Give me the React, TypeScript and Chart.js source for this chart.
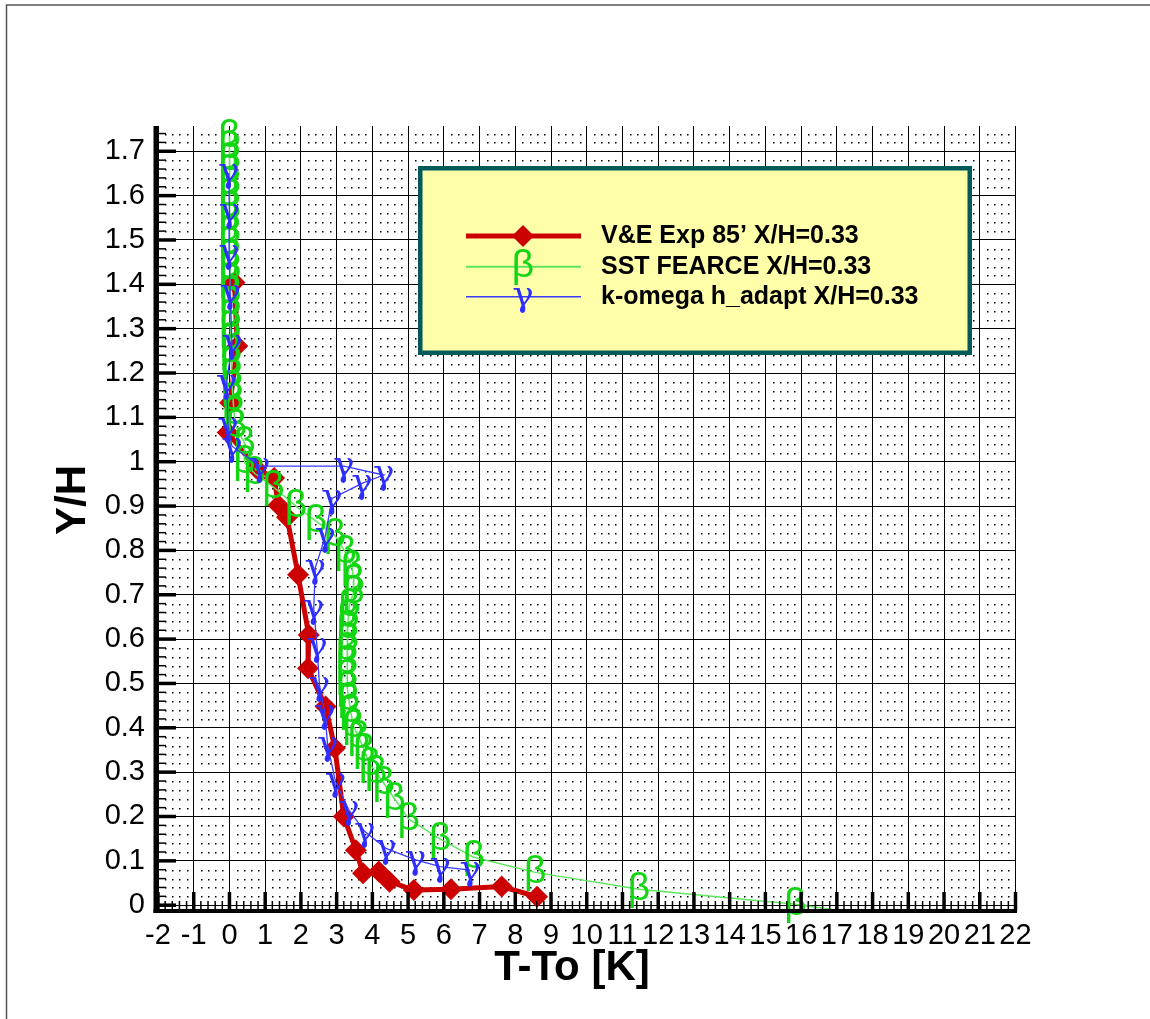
import React, { useEffect, useRef } from 'react';
import { Chart, registerables } from 'chart.js';

Chart.register(...registerables);

// ---------- data ----------
const X_TICKS = [-2, -1, 0, 1, 2, 3, 4, 5, 6, 7, 8, 9, 10, 11, 12, 13, 14, 15, 16, 17, 18, 19, 20, 21, 22];
const X_TICK_LABELS = ['-2', '-1', '0', '1', '2', '3', '4', '5', '6', '7', '8', '9', '10', '11', '12', '13', '14', '15', '16', '17', '18', '19', '20', '21', '22'];
const Y_TICKS = [0, 0.1, 0.2, 0.3, 0.4, 0.5, 0.6, 0.7, 0.8, 0.9, 1, 1.1, 1.2, 1.3, 1.4, 1.5, 1.6, 1.7];
const Y_TICK_LABELS = ['0', '0.1', '0.2', '0.3', '0.4', '0.5', '0.6', '0.7', '0.8', '0.9', '1', '1.1', '1.2', '1.3', '1.4', '1.5', '1.6', '1.7'];

const SERIES_NAMES = ["V&E Exp 85\u2019 X/H=0.33", 'SST FEARCE X/H=0.33', 'k-omega h_adapt X/H=0.33'];

// V&E experiment (T-To, Y/H)
const EXP_POINTS: [number, number][] = [
  [0.14, 1.404], [0.22, 1.261], [0.02, 1.133], [-0.05, 1.066], [0.75, 0.985], [1.25, 0.963],
  [1.37, 0.902], [1.61, 0.875], [1.92, 0.745], [2.22, 0.609], [2.2, 0.534], [2.69, 0.448],
  [2.95, 0.354], [3.2, 0.2], [3.54, 0.124], [3.74, 0.072], [4.18, 0.076], [4.48, 0.053],
  [5.16, 0.034], [6.2, 0.036], [7.62, 0.042], [8.61, 0.019],
];

// SST FEARCE
const SST_POINTS: [number, number][] = [
  [0.0, 1.735], [0.0, 1.709], [0.01, 1.682], [0.0, 1.655], [0.01, 1.627], [0.0, 1.601],
  [0.01, 1.572], [0.0, 1.546], [0.01, 1.518], [0.0, 1.492], [0.01, 1.464], [0.02, 1.437],
  [0.01, 1.411], [0.02, 1.383], [0.02, 1.357], [0.03, 1.329], [0.02, 1.303], [0.04, 1.276],
  [0.04, 1.248], [0.05, 1.222], [0.06, 1.194], [0.08, 1.168], [0.1, 1.14], [0.13, 1.11],
  [0.18, 1.08], [0.42, 1.042], [0.42, 0.998], [0.7, 0.974], [1.23, 0.943], [1.86, 0.9],
  [2.42, 0.866], [2.95, 0.834], [3.25, 0.795], [3.43, 0.762], [3.48, 0.731], [3.47, 0.705],
  [3.36, 0.676], [3.33, 0.652], [3.31, 0.626], [3.31, 0.6], [3.29, 0.576], [3.29, 0.547],
  [3.29, 0.517], [3.3, 0.49], [3.34, 0.465], [3.39, 0.438], [3.47, 0.404], [3.62, 0.378],
  [3.77, 0.35], [3.93, 0.318], [4.1, 0.3], [4.32, 0.275], [4.62, 0.24], [5.02, 0.194],
  [5.9, 0.149], [6.84, 0.108], [8.56, 0.074], [11.46, 0.036], [15.84, 0.002], [17.4, -0.016],
];

// k-omega h_adapt
const KOMEGA_POINTS: [number, number][] = [
  [-0.02, 1.651], [0.0, 1.561], [-0.01, 1.47], [0.02, 1.38], [0.07, 1.267], [-0.08, 1.177],
  [-0.04, 1.08], [0.07, 1.035], [0.85, 0.99], [3.2, 0.99], [4.32, 0.97], [3.71, 0.951],
  [2.87, 0.917], [2.68, 0.831], [2.4, 0.76], [2.36, 0.669], [2.45, 0.583], [2.52, 0.496],
  [2.67, 0.433], [2.75, 0.36], [2.97, 0.278], [3.34, 0.215], [3.79, 0.166], [4.38, 0.128],
  [5.21, 0.102], [5.9, 0.087], [6.74, 0.079],
];

// ---------- styles ----------
const RED = '#cc0000';
const GREEN_LINE = '#5ee65e';
const GREEN_GLYPH = '#12d612';
const BLUE_LINE = '#3a3aff';
const BLUE_GLYPH = '#2e2eff';
const BETA_FONT = '39px "Liberation Sans", Arial, sans-serif';
const GAMMA_FONT = '36px "DejaVu Serif", "Liberation Serif", serif';

const W = 1150;
const H = 1019;

const toXY = (pts: [number, number][]) => pts.map(([x, y]) => ({ x, y }));

const glyphPlugin = {
  id: 'glyphs',
  afterDatasetDraw(chart: any, args: any) {
    const ds = chart.data.datasets[args.index];
    if (!ds.glyph) return;
    const ctx = chart.ctx;
    const a = chart.chartArea;
    ctx.save();
    ctx.font = ds.glyphFont;
    ctx.fillStyle = ds.glyphColor;
    ctx.textAlign = 'center';
    ctx.textBaseline = 'middle';
    for (const el of args.meta.data) {
      if (el.y > a.bottom || el.y < a.top || el.x < a.left || el.x > a.right) continue;
      ctx.fillText(ds.glyph, el.x, el.y);
    }
    ctx.restore();
  },
};

const backgroundPlugin = {
  id: 'bgdots',
  beforeDatasetsDraw(chart: any) {
    const ctx = chart.ctx;
    const xs = chart.scales.x;
    const ys = chart.scales.y;
    ctx.save();
    ctx.fillStyle = '#000';
    for (let i = 0; i <= 120; i++) {
      if (i % 5 === 0) continue;
      const px = Math.round(xs.getPixelForValue(-2 + i * 0.2));
      for (let j = 0; j <= 87; j++) {
        if (j % 5 === 0) continue;
        const py = Math.round(ys.getPixelForValue(j * 0.02));
        ctx.fillRect(px, py, 1.5, 1.5);
      }
    }
    ctx.restore();
  },
};

const framePlugin = {
  id: 'frame',
  afterDatasetsDraw(chart: any) {
    const ctx = chart.ctx;
    const a = chart.chartArea;
    const xs = chart.scales.x;
    const ys = chart.scales.y;
    ctx.save();
    ctx.strokeStyle = '#000';
    // x ticks (inward)
    for (let i = 0; i <= 120; i++) {
      const major = i % 5 === 0;
      const px = xs.getPixelForValue(-2 + i * 0.2);
      ctx.lineWidth = major ? 3.5 : 1.5;
      ctx.beginPath();
      ctx.moveTo(px, a.bottom);
      ctx.lineTo(px, a.bottom - (major ? 19 : 10));
      ctx.stroke();
    }
    // y ticks (inward)
    for (let j = 0; j <= 87; j++) {
      const major = j % 5 === 0;
      const py = ys.getPixelForValue(j * 0.02);
      ctx.lineWidth = major ? 3.5 : 1.5;
      ctx.beginPath();
      ctx.moveTo(a.left - 2, py);
      ctx.lineTo(a.left + (major ? 18 : 8), py);
      ctx.stroke();
    }
    // axis lines
    ctx.fillStyle = '#000';
    ctx.fillRect(a.left - 4.5, a.top, 5, a.bottom - a.top + 2);
    ctx.fillRect(a.left - 4.5, a.bottom - 2, a.right - a.left + 6, 4);
    ctx.restore();
  },
  afterDraw(chart: any) {
    const ctx = chart.ctx;
    ctx.save();
    // outer frame
    ctx.strokeStyle = '#555';
    ctx.lineWidth = 1.5;
    ctx.beginPath();
    ctx.moveTo(6.5, H);
    ctx.lineTo(6.5, 5);
    ctx.lineTo(W, 5);
    ctx.stroke();

    // axis titles
    ctx.fillStyle = '#000';
    ctx.font = 'bold 42px "Liberation Sans", Arial, sans-serif';
    ctx.textAlign = 'center';
    ctx.textBaseline = 'middle';
    ctx.fillText('T-To [K]', 572, 968);
    ctx.save();
    ctx.translate(73, 500);
    ctx.rotate(-Math.PI / 2);
    ctx.fillText('Y/H', 0, 0);
    ctx.restore();

    // legend box
    ctx.fillStyle = '#ffffaa';
    ctx.fillRect(420, 168, 550, 185);
    ctx.strokeStyle = '#005a5a';
    ctx.lineWidth = 4.5;
    ctx.strokeRect(420.25, 168.25, 549.5, 184.5);

    const lx0 = 466;
    const lx1 = 581;
    const lxc = 523;
    const rows = [236, 266.7, 296.7];
    // row 1
    ctx.strokeStyle = RED;
    ctx.lineWidth = 5;
    ctx.beginPath();
    ctx.moveTo(lx0, rows[0]);
    ctx.lineTo(lx1, rows[0]);
    ctx.stroke();
    ctx.fillStyle = RED;
    const r = 11;
    ctx.beginPath();
    ctx.moveTo(lxc, rows[0] - r);
    ctx.lineTo(lxc + r, rows[0]);
    ctx.lineTo(lxc, rows[0] + r);
    ctx.lineTo(lxc - r, rows[0]);
    ctx.closePath();
    ctx.fill();
    // row 2
    ctx.strokeStyle = GREEN_LINE;
    ctx.lineWidth = 2;
    ctx.beginPath();
    ctx.moveTo(lx0, rows[1]);
    ctx.lineTo(lx1, rows[1]);
    ctx.stroke();
    ctx.fillStyle = GREEN_GLYPH;
    ctx.font = BETA_FONT;
    ctx.textAlign = 'center';
    ctx.textBaseline = 'middle';
    ctx.fillText('\u03b2', lxc, rows[1]);
    // row 3
    ctx.strokeStyle = BLUE_LINE;
    ctx.lineWidth = 1.5;
    ctx.beginPath();
    ctx.moveTo(lx0, rows[2]);
    ctx.lineTo(lx1, rows[2]);
    ctx.stroke();
    ctx.fillStyle = BLUE_GLYPH;
    ctx.font = GAMMA_FONT;
    ctx.fillText('\u03b3', lxc, rows[2]);

    // legend text
    ctx.fillStyle = '#000';
    ctx.font = 'bold 25px "Liberation Sans", Arial, sans-serif';
    ctx.textAlign = 'left';
    ctx.textBaseline = 'middle';
    SERIES_NAMES.forEach((name, i) => ctx.fillText(name, 601, rows[i]));
    ctx.restore();
  },
};

export default function App() {
  const canvasRef = useRef<HTMLCanvasElement | null>(null);

  useEffect(() => {
    const canvas = canvasRef.current;
    if (!canvas) return;
    const tickFont = { family: '"Liberation Sans", Arial, sans-serif', size: 29 };
    const chart = new Chart(canvas, {
      type: 'scatter',
      data: {
        datasets: [
          {
            label: SERIES_NAMES[0],
            data: toXY(EXP_POINTS),
            showLine: true,
            borderColor: RED,
            borderWidth: 5,
            backgroundColor: RED,
            pointStyle: 'rectRot',
            pointRadius: 11,
            pointBorderWidth: 0,
            pointBackgroundColor: RED,
            order: 3,
          } as any,
          {
            label: SERIES_NAMES[1],
            data: toXY(SST_POINTS),
            showLine: true,
            borderColor: GREEN_LINE,
            borderWidth: 1.5,
            pointRadius: 0,
            order: 2,
            glyph: '\u03b2',
            glyphFont: BETA_FONT,
            glyphColor: GREEN_GLYPH,
          } as any,
          {
            label: SERIES_NAMES[2],
            data: toXY(KOMEGA_POINTS),
            showLine: true,
            borderColor: BLUE_LINE,
            borderWidth: 1.3,
            pointRadius: 0,
            order: 1,
            glyph: '\u03b3',
            glyphFont: GAMMA_FONT,
            glyphColor: BLUE_GLYPH,
          } as any,
        ],
      },
      options: {
        responsive: false,
        animation: false,
        devicePixelRatio: 1,
        layout: { padding: { left: 0, top: 126, right: 134.5, bottom: 0 } },
        plugins: {
          legend: { display: false },
          tooltip: { enabled: false },
        },
        elements: { line: { tension: 0 } },
        scales: {
          x: {
            type: 'linear',
            position: 'bottom',
            min: -2,
            max: 22,
            afterBuildTicks: (s: any) => {
              s.ticks = X_TICKS.map((v) => ({ value: v }));
            },
            afterFit: (s: any) => {
              s.height = H - 911;
            },
            grid: { color: '#000', lineWidth: 1, drawTicks: false },
            border: { display: false },
            ticks: {
              font: tickFont,
              color: '#000',
              padding: 8,
              autoSkip: false,
              maxRotation: 0,
              callback: (_v: any, i: number) => X_TICK_LABELS[i],
            },
          },
          y: {
            type: 'linear',
            position: 'left',
            min: -0.0131,
            max: 1.757,
            afterBuildTicks: (s: any) => {
              s.ticks = Y_TICKS.map((v) => ({ value: v }));
            },
            afterFit: (s: any) => {
              s.width = 158;
            },
            grid: { color: '#000', lineWidth: 1, drawTicks: false },
            border: { display: false },
            ticks: {
              font: tickFont,
              color: '#000',
              padding: 13,
              autoSkip: false,
              callback: (_v: any, i: number) => Y_TICK_LABELS[i],
            },
          },
        },
      } as any,
      plugins: [backgroundPlugin, glyphPlugin, framePlugin],
    });
    return () => chart.destroy();
  }, []);

  return (
    <div style={{ position: 'absolute', left: 0, top: 0, width: W, height: H, background: '#fff' }}>
      <canvas ref={canvasRef} width={W} height={H} style={{ display: 'block', width: W, height: H }} />
    </div>
  );
}
